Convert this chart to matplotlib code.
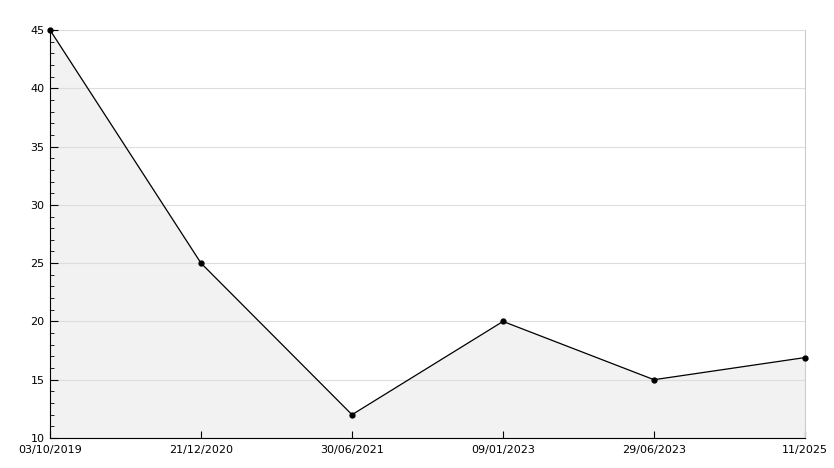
import matplotlib
matplotlib.use("Agg")
import matplotlib.pyplot as plt
from matplotlib.ticker import MultipleLocator

dates = ["03/10/2019", "21/12/2020", "30/06/2021", "09/01/2023", "29/06/2023", "11/2025"]
values = [45, 25, 12, 20, 15, 16.9]

fig = plt.figure(figsize=(8.34, 4.68), dpi=100)
ax = fig.add_axes([50/834, 30/468, 755/834, 408/468])
x = list(range(len(dates)))
ax.fill_between(x, values, 10, color="#f2f2f2", zorder=1)
ax.plot(x, values, color="black", lw=0.9, marker="o", ms=3.5, zorder=3, clip_on=False)
ax.set_xlim(0, len(dates) - 1)
ax.set_ylim(10, 45)
ax.yaxis.set_major_locator(MultipleLocator(5))
ax.yaxis.set_minor_locator(MultipleLocator(1))
ax.grid(axis="y", color="#dddddd", lw=0.8, zorder=0)
ax.set_xticks(x)
ax.set_xticklabels(dates)
ax.spines["top"].set_visible(False)
ax.spines["right"].set_color("#cccccc")
ax.tick_params(axis="both", which="both", direction="in", labelsize=8)
ax.tick_params(axis="y", which="major", length=6, pad=4)
ax.tick_params(axis="y", which="minor", length=3)
ax.tick_params(axis="x", length=5, pad=5)
for lbl in ax.get_yticklabels():
    lbl.set_verticalalignment("center_baseline")
fig.savefig("out.png", dpi=100)
